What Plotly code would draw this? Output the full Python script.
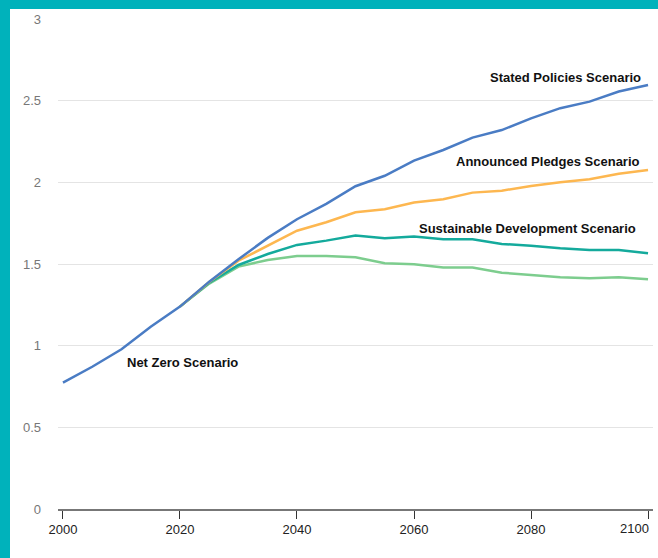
import plotly.graph_objects as go

years_hist = [2000, 2005, 2010, 2015, 2020]
years = [2020, 2025, 2030, 2035, 2040, 2045, 2050, 2055, 2060, 2065, 2070,
         2075, 2080, 2085, 2090, 2095, 2100]

stated_hist = [0.774, 0.871, 0.978, 1.116, 1.239]
stated = [1.239, 1.392, 1.529, 1.66, 1.774, 1.868, 1.976, 2.04, 2.133, 2.198,
          2.274, 2.32, 2.392, 2.454, 2.494, 2.556, 2.596]
announced = [1.239, 1.39, 1.52, 1.61, 1.704, 1.756, 1.817, 1.835, 1.876, 1.896,
             1.937, 1.949, 1.978, 2.0, 2.019, 2.053, 2.076]
sustainable = [1.239, 1.385, 1.494, 1.561, 1.617, 1.643, 1.674, 1.658, 1.668,
               1.651, 1.651, 1.623, 1.611, 1.596, 1.586, 1.586, 1.566]
netzero = [1.239, 1.38, 1.484, 1.525, 1.549, 1.549, 1.541, 1.505, 1.498, 1.478,
           1.478, 1.447, 1.433, 1.419, 1.413, 1.419, 1.407]

labels = ["Net Zero Scenario", "Sustainable Development Scenario",
          "Announced Pledges Scenario", "Stated Policies Scenario"]
colors = ["rgb(125,205,142)", "rgb(20,170,156)", "rgb(253,183,80)", "rgb(74,124,196)"]

x_ticks = [2000, 2020, 2040, 2060, 2080, 2100]
x_ticktext = ["2000", "2020", "2040", "2060", "2080", ""]
last_x_label = "2100"
y_ticks = [0, 0.5, 1, 1.5, 2, 2.5, 3]
y_ticktext = ["0", "0.5", "1", "1.5", "2", "2.5", "3"]

FONT = "Arial, 'Liberation Sans', sans-serif"

fig = go.Figure()
series = [netzero, sustainable, announced, stated]
for name, vals, col in zip(labels, series, colors):
    if name == "Stated Policies Scenario":
        xs = years_hist + years[1:]
        ys = stated_hist + vals[1:]
    else:
        xs = years
        ys = vals
    fig.add_trace(go.Scatter(x=xs, y=ys, mode="lines", name=name,
                             line=dict(color=col, width=2.5), hoverinfo="skip"))

ann = [
    dict(text="Stated Policies Scenario", x=2099.2, y=2.64, xanchor="right"),
    dict(text="Announced Pledges Scenario", x=2099.0, y=2.125, xanchor="right"),
    dict(text="Sustainable Development Scenario", x=2098.3, y=1.72, xanchor="right"),
    dict(text="Net Zero Scenario", x=2010.6, y=0.90, xanchor="left"),
]
for a in ann:
    fig.add_annotation(x=a["x"], y=a["y"], text="<b>" + a["text"] + "</b>",
                       xanchor=a["xanchor"], yanchor="middle", showarrow=False,
                       font=dict(family=FONT, size=13, color="#111"))

# last x tick label, shifted left to stay inside the page
fig.add_annotation(x=x_ticks[-1], xref="x", y=0, yref="paper", text=last_x_label,
                   xanchor="right", yanchor="middle", xshift=3, yshift=-19,
                   showarrow=False, font=dict(family=FONT, size=13, color="#222"))

TEAL = "rgb(0,178,187)"
fig.add_shape(type="rect", xref="paper", yref="paper", x0=-58/595, x1=-48/595,
              y0=-49/490, y1=19/490 + 1, fillcolor=TEAL, line_width=0, layer="below")
fig.add_shape(type="rect", xref="paper", yref="paper", x0=-58/595, x1=1 + 5/595,
              y0=1 + 10/490, y1=1 + 19/490, fillcolor=TEAL, line_width=0, layer="below")

fig.update_layout(
    width=658, height=558,
    margin=dict(l=58, r=5, t=19, b=49),
    paper_bgcolor="white", plot_bgcolor="white",
    showlegend=False,
    font=dict(family=FONT),
    xaxis=dict(range=[1999.15, 2100.85], tickvals=x_ticks, ticktext=x_ticktext,
               ticks="outside",
               ticklen=8, tickcolor="#333", tickwidth=1, showgrid=False,
               showline=True, linecolor="#777", linewidth=1.5, zeroline=False,
               tickfont=dict(size=13, color="#222")),
    yaxis=dict(range=[0, 3], tickvals=y_ticks, ticktext=y_ticktext,
               showgrid=True, gridcolor="#e4e4e4", gridwidth=1,
               zeroline=False, showline=False, ticks="",
               ticklabelstandoff=16,
               tickfont=dict(size=13, color="#777")),
)

fig.write_html("out.html")
